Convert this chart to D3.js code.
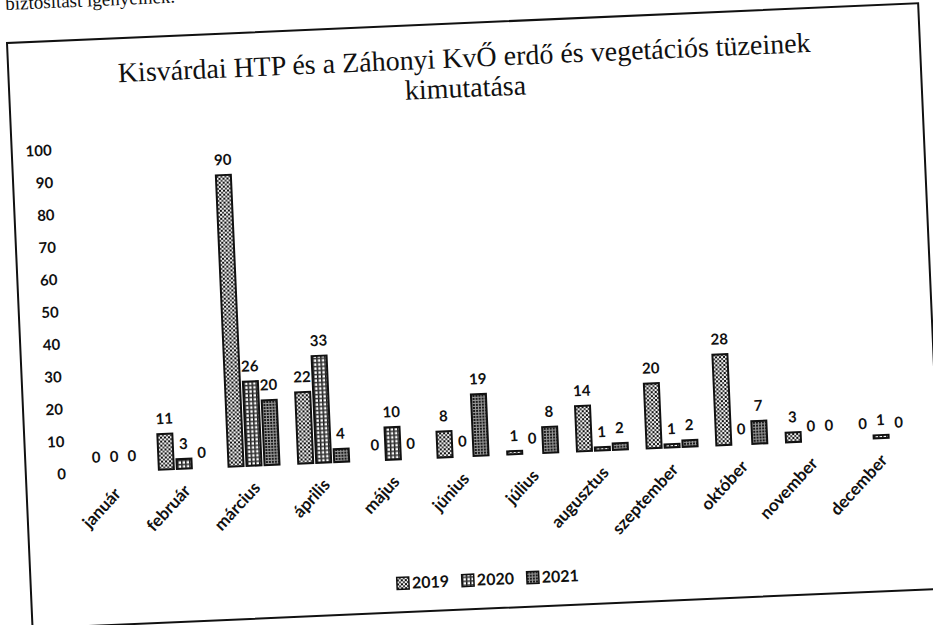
<!DOCTYPE html>
<html>
<head>
<meta charset="utf-8">
<script src="https://cdn.jsdelivr.net/npm/d3@7"></script>
<style>
  body { margin: 0; background: #fff; }
  svg { display: block; }
</style>
</head>
<body>
<div class="chart"></div>
<script>
const months = ['január', 'február', 'március', 'április', 'május', 'június', 'július', 'augusztus', 'szeptember', 'október', 'november', 'december']
const years = ['2019', '2020', '2021']
const fires2019 = [0, 11, 90, 22, 0, 8, 1, 14, 20, 28, 3, 0]
const fires2020 = [0, 3, 26, 33, 10, 0, 0, 1, 1, 0, 0, 1]
const fires2021 = [0, 0, 20, 4, 0, 19, 8, 2, 2, 7, 0, 0]
const yTicks = [0, 10, 20, 30, 40, 50, 60, 70, 80, 90, 100]

const titleLines = ['Kisvárdai HTP és a Záhonyi KvŐ erdő és vegetációs tüzeinek', 'kimutatása']

createChart('.chart')

//helpers

function createChart(sel) {
  const W = 933, H = 625
  const boxW = 912, boxH = 586
  const numFont = 'Lato, "Open Sans", sans-serif'

  const svg = d3.select(sel).append('svg')
    .attr('width', W)
    .attr('height', H)

  svg.append('rect').attr('width', W).attr('height', H).attr('fill', '#fff')

  // scanned page is a bit tilted
  const page = svg.append('g').attr('transform', 'translate(7,43) rotate(-2.5)')

  // patterns for the three years (excel pattern fills)
  const defs = svg.append('defs')
  const p1 = defs.append('pattern').attr('id', 'p2019').attr('width', 4).attr('height', 4).attr('patternUnits', 'userSpaceOnUse')
  p1.append('rect').attr('width', 4).attr('height', 4).attr('fill', '#eee')
  p1.append('rect').attr('width', 2).attr('height', 2).attr('fill', '#111')
  p1.append('rect').attr('x', 2).attr('y', 2).attr('width', 2).attr('height', 2).attr('fill', '#444')

  const p2 = defs.append('pattern').attr('id', 'p2020').attr('width', 4).attr('height', 4).attr('patternUnits', 'userSpaceOnUse')
  p2.append('rect').attr('width', 4).attr('height', 4).attr('fill', '#fff')
  p2.append('rect').attr('width', 1.5).attr('height', 4).attr('fill', '#111')
  p2.append('rect').attr('width', 4).attr('height', 1.5).attr('fill', '#333')

  const p3 = defs.append('pattern').attr('id', 'p2021').attr('width', 3).attr('height', 3).attr('patternUnits', 'userSpaceOnUse')
  p3.append('rect').attr('width', 3).attr('height', 3).attr('fill', '#999')
  p3.append('rect').attr('width', 2).attr('height', 2).attr('fill', '#1a1a1a')

  // text cut off above the chart
  page.append('text')
    .attr('x', 0)
    .attr('y', -33)
    .attr('font-family', '"Liberation Serif", serif')
    .attr('font-size', 19)
    .attr('fill', '#111')
    .text('biztosítást igényelnek.')

  // chart border
  page.append('rect')
    .attr('width', boxW)
    .attr('height', boxH)
    .attr('fill', 'none')
    .attr('stroke', '#111')
    .attr('stroke-width', 2)

  page.selectAll('.title')
    .data(titleLines)
    .enter()
    .append('text')
    .attr('class', 'title')
    .attr('x', boxW / 2)
    .attr('y', (d, i) => 44 + i * 30)
    .attr('text-anchor', 'middle')
    .attr('font-family', '"Liberation Serif", serif')
    .attr('font-size', 28)
    .attr('fill', '#111')
    .text((d) => d)

  const x = d3.scaleBand().domain(months).range([54, 891])
  const groupW = 54
  const xs = d3.scaleBand().domain(years).range([0, groupW])
  const barW = 15
  const y = d3.scaleLinear().domain([0, 100]).range([433, 109])

  const yAxis = page.append('g')
    .attr('transform', 'translate(44,0)')
    .call(d3.axisLeft(y).tickValues(yTicks).tickSize(0).tickPadding(4))
  yAxis.select('.domain').remove()
  yAxis.selectAll('text')
    .attr('font-family', numFont)
    .attr('font-size', 15)
    .attr('font-weight', 700)
    .attr('fill', '#111')

  const rows = months.map((m, i) => ({
    month: m,
    values: [fires2019[i], fires2020[i], fires2021[i]].map((v, k) => ({ year: years[k], value: v }))
  }))

  const group = page.selectAll('.month')
    .data(rows)
    .enter()
    .append('g')
    .attr('class', 'month')
    .attr('transform', (d) => `translate(${x(d.month) + (x.bandwidth() - groupW) / 2},0)`)

  const bar = group.selectAll('g')
    .data((d) => d.values)
    .enter()
    .append('g')

  bar.filter((d) => d.value > 0)
    .append('rect')
    .attr('x', (d) => xs(d.year) + (xs.bandwidth() - barW) / 2)
    .attr('y', (d) => y(d.value))
    .attr('width', barW)
    .attr('height', (d) => y(0) - y(d.value))
    .attr('fill', (d) => `url(#p${d.year})`)
    .attr('stroke', '#111')
    .attr('stroke-width', 2)

  bar.append('text')
    .attr('x', (d) => xs(d.year) + xs.bandwidth() / 2)
    .attr('y', (d) => y(d.value) - 10)
    .attr('text-anchor', 'middle')
    .attr('font-family', numFont)
    .attr('font-size', 15)
    .attr('font-weight', 700)
    .attr('fill', '#111')
    .text((d) => d.value)

  // month labels, rotated
  page.selectAll('.mlabel')
    .data(months)
    .enter()
    .append('text')
    .attr('class', 'mlabel')
    .attr('transform', (d) => `translate(${x(d) + x.bandwidth() / 2 + 2},452) rotate(-45)`)
    .attr('text-anchor', 'end')
    .attr('dy', '0.35em')
    .attr('font-family', numFont)
    .attr('font-size', 17)
    .attr('font-weight', 700)
    .attr('fill', '#111')
    .text((d) => d)

  // legend
  const legend = page.append('g').attr('transform', 'translate(366,557)')
  const item = legend.selectAll('g')
    .data(years)
    .enter()
    .append('g')
    .attr('transform', (d, i) => `translate(${i * 65},0)`)
  item.append('rect')
    .attr('x', 0)
    .attr('y', -6)
    .attr('width', 12)
    .attr('height', 12)
    .attr('fill', (d) => `url(#p${d})`)
    .attr('stroke', '#111')
    .attr('stroke-width', 1.5)
  item.append('text')
    .attr('x', 15)
    .attr('y', 0)
    .attr('dy', '0.35em')
    .attr('font-family', numFont)
    .attr('font-size', 16)
    .attr('font-weight', 700)
    .attr('fill', '#111')
    .text((d) => d)
}
</script>
</body>
</html>
